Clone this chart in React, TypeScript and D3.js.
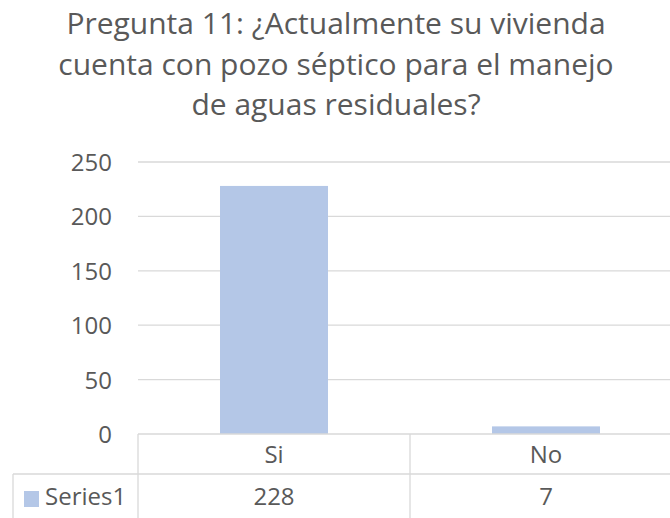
import React from "react";
import * as d3 from "d3";

const categories = ["Si", "No"];
const values = [228, 7];
const yTicks = [0, 50, 100, 150, 200, 250];
const seriesName = "Series1";
const titleLines = [
  "Pregunta 11: ¿Actualmente su vivienda",
  "cuenta con pozo séptico para el manejo",
  "de aguas residuales?",
];

const W = 670;
const H = 518;
const left = 138;
const right = 682;
const top = 162;
const bottom = 434;
const font = "'Open Sans', 'Noto Sans', sans-serif";
const textColor = "#595959";
const gridColor = "#d9d9d9";

export default function App() {
  const x = d3.scaleBand<string>().domain(categories).range([left, right]).paddingInner(0).paddingOuter(0);
  const y = d3.scaleLinear().domain([0, 250]).range([bottom, top]);
  const barW = x.bandwidth() * 0.397;
  const rowLine = 474;
  return (
    <svg width={W} height={H} style={{ position: "absolute", left: 0, top: 0, background: "#fff" }}>
      <rect width={W} height={H} fill="#fff" />
      {titleLines.map((t, i) => (
        <text key={i} x={336} y={34 + i * 40.5} textAnchor="middle" fontFamily={font} fontSize={30} fill={textColor}>
          {t}
        </text>
      ))}
      {yTicks.map((t) => (
        <g key={t}>
          {t > 0 && <line x1={left} x2={right} y1={y(t)} y2={y(t)} stroke={gridColor} strokeWidth={1.3} />}
          <text x={112} y={y(t) + 9} textAnchor="end" fontFamily={font} fontSize={24} fill={textColor}>
            {t}
          </text>
        </g>
      ))}
      {categories.map((c, i) => (
        <rect key={c} x={x(c)! + (x.bandwidth() - barW) / 2} y={y(values[i])} width={barW} height={bottom - y(values[i])} fill="#b4c7e7" />
      ))}
      {/* data table */}
      <line x1={left} x2={right} y1={bottom} y2={bottom} stroke={gridColor} strokeWidth={1.3} />
      <line x1={13} x2={right} y1={rowLine} y2={rowLine} stroke={gridColor} strokeWidth={1.3} />
      <line x1={left} x2={left} y1={bottom} y2={H} stroke={gridColor} strokeWidth={1.3} />
      <line x1={13} x2={13} y1={rowLine} y2={H} stroke={gridColor} strokeWidth={1.3} />
      {categories.map((c, i) => (
        <g key={c}>
          {i > 0 && <line x1={x(c)!} x2={x(c)!} y1={bottom} y2={H} stroke={gridColor} strokeWidth={1.3} />}
          <text x={x(c)! + x.bandwidth() / 2} y={463} textAnchor="middle" fontFamily={font} fontSize={24} fill={textColor}>
            {c}
          </text>
          <text x={x(c)! + x.bandwidth() / 2} y={505} textAnchor="middle" fontFamily={font} fontSize={24} fill={textColor}>
            {values[i]}
          </text>
        </g>
      ))}
      <rect x={24} y={491} width={15} height={16} fill="#b4c7e7" />
      <text x={45} y={505} fontFamily={font} fontSize={24} fill={textColor}>
        {seriesName}
      </text>
    </svg>
  );
}
